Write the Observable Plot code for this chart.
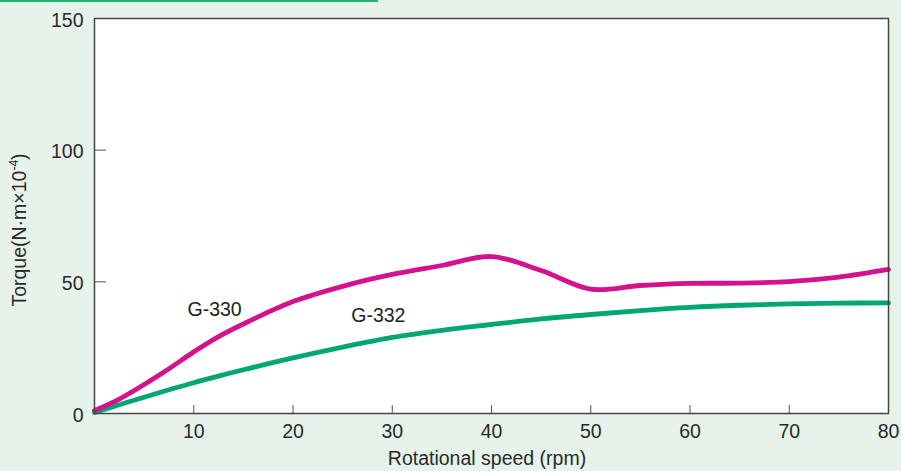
<!DOCTYPE html>
<html><head><meta charset="utf-8">
<script src="https://cdn.jsdelivr.net/npm/d3@7"></script>
<script src="https://cdn.jsdelivr.net/npm/@observablehq/plot@0.6"></script>
<style>
html,body{margin:0;padding:0;background:#e7f2ea;}
#wrap{position:relative;width:901px;height:471px;}
#deco{position:absolute;left:0;top:0;width:378px;height:2px;background:#1db36e;}
</style></head>
<body><div id="wrap"><div id="deco"></div></div>
<script>
const speed = [0, 2.5, 5, 7.5, 10, 12.5, 15, 20, 25, 30, 35, 40, 45, 50, 55, 60, 65, 70, 75, 80];
const g330 = [1.1, 5.5, 11, 17, 23.4, 29.2, 34.0, 42.5, 48.3, 52.8, 56.2, 59.6, 54.3, 47.2, 48.6, 49.4, 49.5, 50.1, 51.8, 54.7];
const g332 = [0.4, 3.3, 6.2, 9.0, 11.7, 14.2, 16.6, 21.1, 25.2, 28.9, 31.6, 33.8, 35.9, 37.6, 39.1, 40.3, 41.1, 41.6, 41.9, 42.0];
const xTicks = [10, 20, 30, 40, 50, 60, 70, 80];
const yTicks = [0, 50, 100, 150];
const labels = [{x: 12.1, y: 39.3, text: "G-330"}, {x: 28.6, y: 37.2, text: "G-332"}];

const d330 = speed.map((s, i) => ({x: s, y: g330[i]}));
const d332 = speed.map((s, i) => ({x: s, y: g332[i]}));

const chart = Plot.plot({
  width: 901, height: 471,
  marginLeft: 94, marginTop: 18, marginRight: 13, marginBottom: 58,
  style: {background: "transparent", fontFamily: "'Liberation Sans', Arial, sans-serif", fontSize: "19.5px", color: "#2a2a2a"},
  x: {domain: [0, 80]},
  y: {domain: [0, 150]},
  marks: [
    Plot.frame({fill: "white"}),
    Plot.axisY({ticks: yTicks, tickSize: -12, tickFormat: () => "", label: null, stroke: "#555"}),
    Plot.axisY({ticks: yTicks, tickSize: 0, tickPadding: 11, label: null, fontSize: 19.5, dy: 2}),
    Plot.axisX({ticks: xTicks, tickSize: -8, tickPadding: 19, label: null, stroke: "#555", fontSize: 19.5}),
    Plot.line(d332, {x: "x", y: "y", stroke: "#00a774", strokeWidth: 4.8, curve: "catmull-rom"}),
    Plot.line(d330, {x: "x", y: "y", stroke: "#d4118f", strokeWidth: 4.8, curve: "catmull-rom"}),
    Plot.text(labels, {x: "x", y: "y", text: "text", fontSize: 19.5, fill: "#222"}),
    Plot.frame({stroke: "#444", strokeWidth: 1.5})
  ]
});
const svg = d3.select(chart);
svg.append("text").attr("x", 487).attr("y", 465).attr("text-anchor", "middle")
  .attr("font-size", 19.5).attr("fill", "#2a2a2a").text("Rotational speed (rpm)");
const yl = svg.append("text").attr("transform", "translate(26,230) rotate(-90)").attr("text-anchor", "middle")
  .attr("font-size", 19.5).attr("fill", "#2a2a2a");
yl.append("tspan").text("Torque(N·m×10");
yl.append("tspan").attr("font-size", 12).attr("dy", -8).text("-4");
yl.append("tspan").attr("dy", 8).text(")");
document.getElementById("wrap").appendChild(chart);
</script>
</body></html>
